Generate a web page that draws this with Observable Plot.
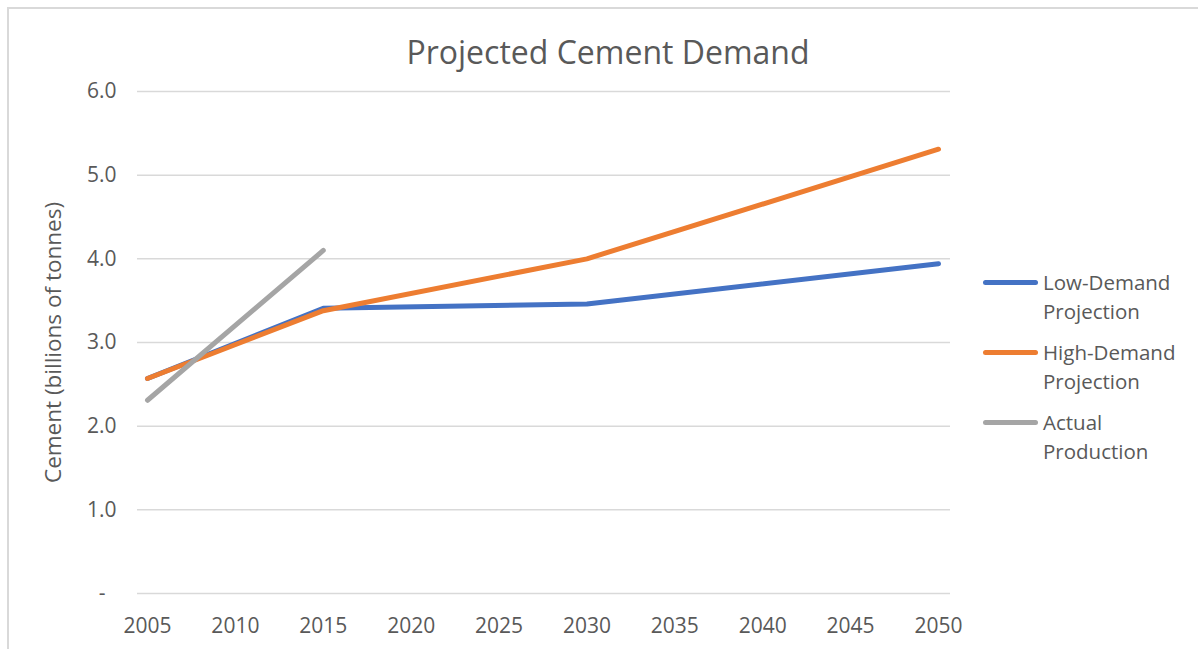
<!DOCTYPE html>
<html>
<head>
<meta charset="utf-8">
<script src="https://cdn.jsdelivr.net/npm/d3@7"></script>
<script src="https://cdn.jsdelivr.net/npm/@observablehq/plot@0.6"></script>
<style>
  html, body { margin: 0; padding: 0; background: #fff; }
  #wrap { position: relative; width: 1198px; height: 649px; overflow: hidden; font-family: "Open Sans", sans-serif; color: #595959; }
  #frame { position: absolute; left: 7px; top: 7px; width: 1300px; height: 800px; border-left: 2px solid #d9d9d9; border-top: 2px solid #d9d9d9; box-sizing: border-box; }
  #chart { position: absolute; left: 0; top: 0; }
  #title { position: absolute; left: 0; width: 1216px; top: 32px; line-height: 40px; text-align: center; font-size: 32px; }
  .leg { position: absolute; left: 983px; font-size: 20.5px; line-height: 29px; }
  .leg .sw { position: absolute; left: 0; top: 12px; width: 55px; height: 5px; border-radius: 3px; }
  .leg .tx { position: absolute; left: 60px; top: 0; white-space: nowrap; }
</style>
</head>
<body>
<div id="wrap">
  <div id="frame"></div>
  <div id="chart"></div>
  <div id="title">Projected Cement Demand</div>
  <div id="legend"></div>
</div>
<script>
// ---- data ----
const projYears = [2005, 2015, 2030, 2050];
const lowDemand = [2.57, 3.41, 3.46, 3.94];
const highDemand = [2.57, 3.38, 4.00, 5.31];
const actualYears = [2005, 2015];
const actualProduction = [2.31, 4.10];
const xTicks = [2005, 2010, 2015, 2020, 2025, 2030, 2035, 2040, 2045, 2050];
const yTicks = [0, 1, 2, 3, 4, 5, 6];
const seriesNames = ["Low-Demand Projection", "High-Demand Projection", "Actual Production"];
const seriesLines = [["Low-Demand", "Projection"], ["High-Demand", "Projection"], ["Actual", "Production"]];
const seriesColors = ["#4472C4", "#ED7D31", "#A5A5A5"];
const yAxisLabel = "Cement (billions of tonnes)";

const lowData = projYears.map((yr, i) => ({year: yr, value: lowDemand[i]}));
const highData = projYears.map((yr, i) => ({year: yr, value: highDemand[i]}));
const actualData = actualYears.map((yr, i) => ({year: yr, value: actualProduction[i]}));

const lineOpts = (c) => ({x: "year", y: "value", stroke: c, strokeWidth: 5, strokeLinecap: "round", strokeLinejoin: "round"});

const chart = Plot.plot({
  width: 1198,
  height: 649,
  marginLeft: 137,
  marginRight: 248,
  marginTop: 91,
  marginBottom: 56,
  x: {domain: [2005, 2050], range: [147, 938]},
  y: {domain: [0, 6]},
  style: {fontFamily: "'Open Sans', sans-serif", color: "#595959", background: "transparent"},
  marks: [
    Plot.gridY(yTicks, {stroke: "#d9d9d9", strokeOpacity: 1, strokeWidth: 1.5}),
    Plot.axisX({ticks: xTicks, tickSize: 0, tickPadding: 25, tickFormat: d => String(d), fontSize: 21, label: null}),
    Plot.axisY({ticks: yTicks, tickSize: 0, tickPadding: 21, tickFormat: d => d === 0 ? "-\u00a0\u00a0" : d.toFixed(1), fontSize: 21, label: null}),
    Plot.line(lowData, lineOpts(seriesColors[0])),
    Plot.line(highData, lineOpts(seriesColors[1])),
    Plot.line(actualData, lineOpts(seriesColors[2])),
    Plot.text([yAxisLabel], {frameAnchor: "left", dx: -84, rotate: -90, textAnchor: "middle", fontSize: 22.5, fill: "#595959"})
  ]
});
document.getElementById("chart").appendChild(chart);

const legend = document.getElementById("legend");
const legTops = [268, 338, 408];
seriesNames.forEach((name, i) => {
  const d = document.createElement("div");
  d.className = "leg";
  d.style.top = legTops[i] + "px";
  d.setAttribute("title", name);
  const sw = document.createElement("div");
  sw.className = "sw";
  sw.style.background = seriesColors[i];
  const tx = document.createElement("div");
  tx.className = "tx";
  tx.innerHTML = seriesLines[i].join("<br>");
  d.appendChild(sw);
  d.appendChild(tx);
  legend.appendChild(d);
});
</script>
</body>
</html>
